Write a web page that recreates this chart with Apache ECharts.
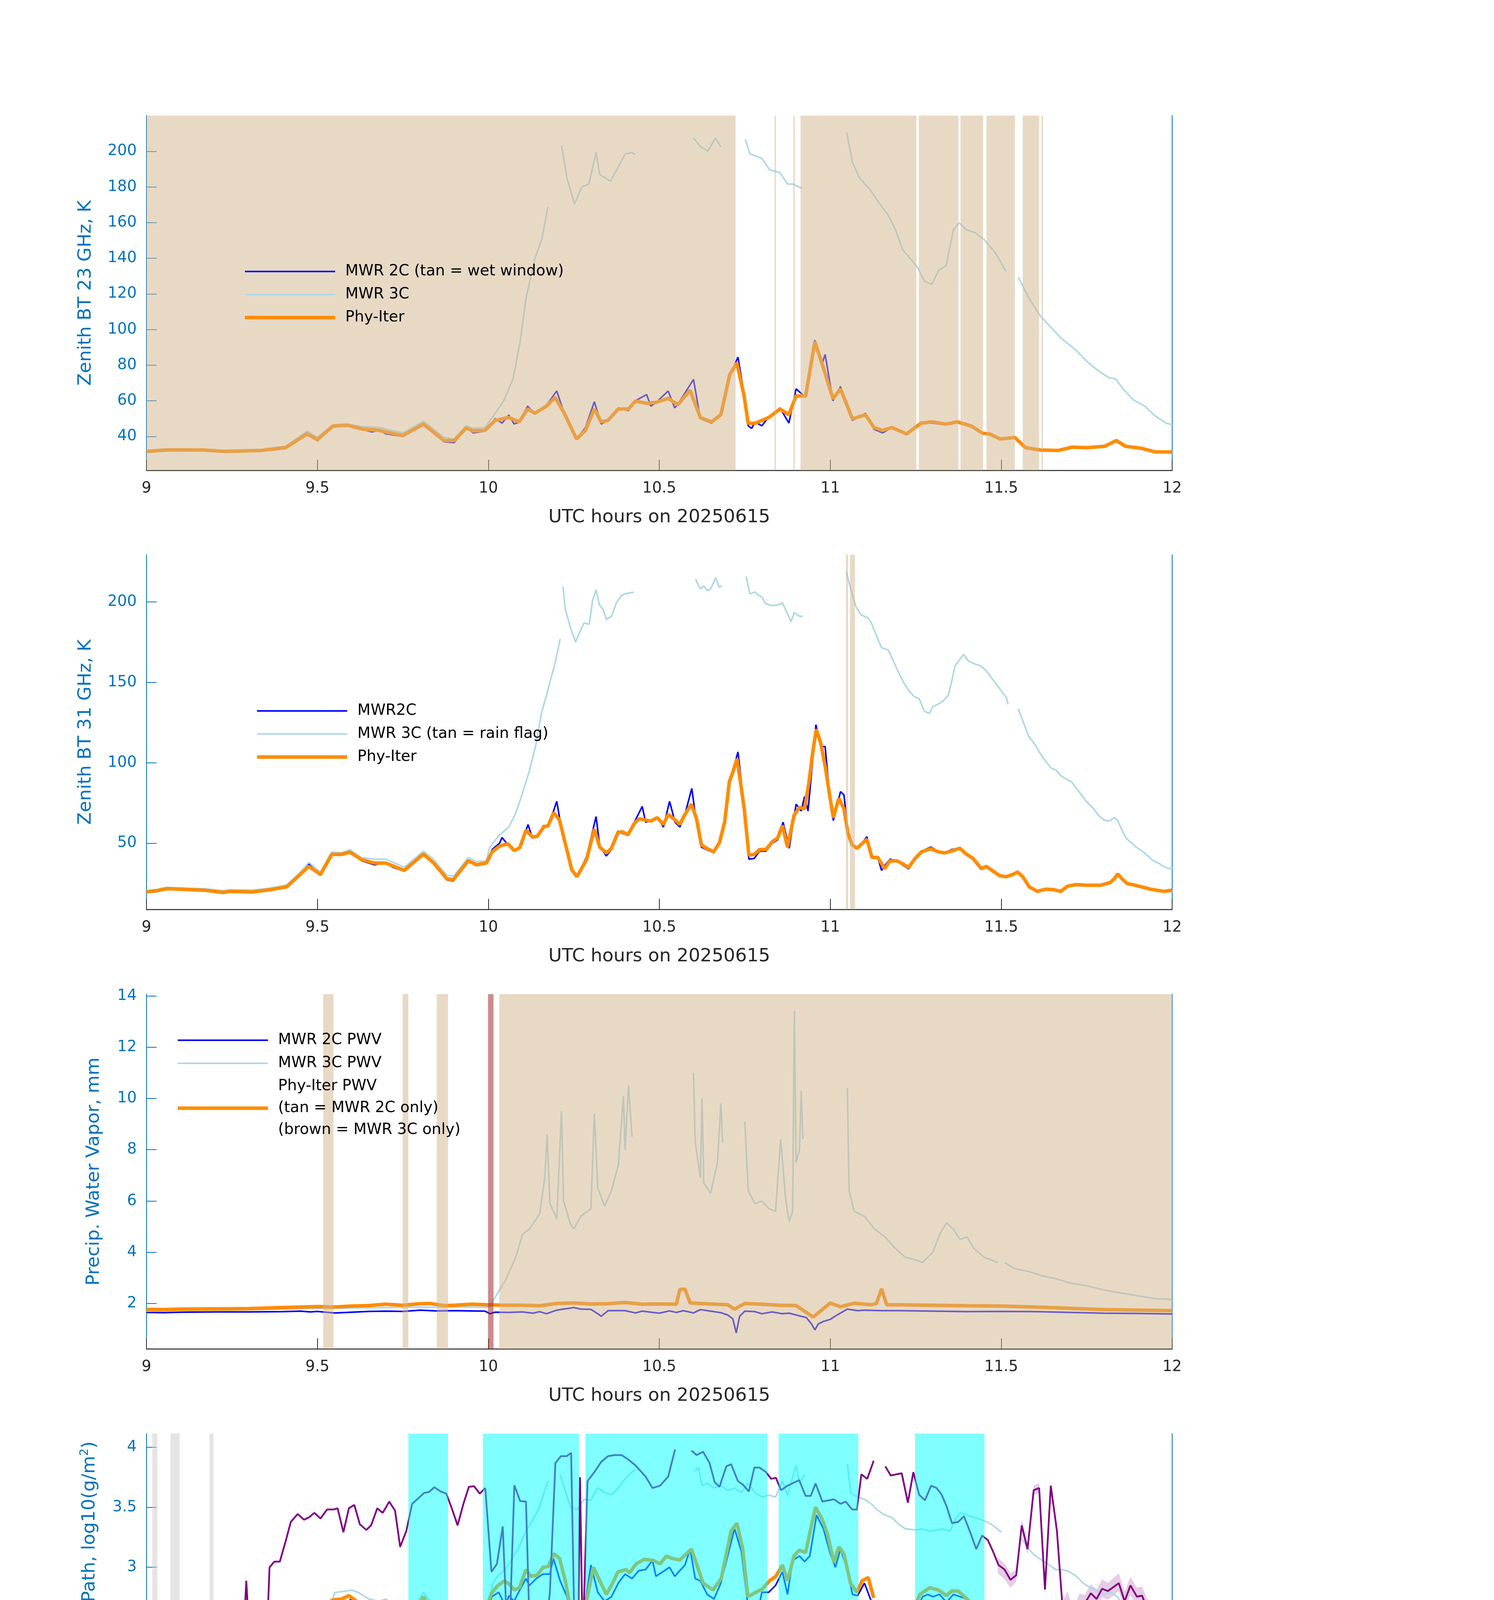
<!DOCTYPE html>
<html>
<head>
<meta charset="utf-8">
<title>MWR Phy-Iter retrieval, 20250615</title>
<script src="https://cdn.jsdelivr.net/npm/echarts@6/dist/echarts.min.js"></script>
<style>
  html, body { margin: 0; padding: 0; background: #fff; }
  #chart { width: 3825px; height: 6000px; }
</style>
</head>
<body>
<div id="chart"></div>
<script>
// values: [UTC hour, value], null = gap in the record

// panel 1: zenith BT 23 GHz
var bt23_2c = [[9.0,31.5],[9.06,32.2],[9.165,32.2],[9.228,31.4],[9.333,32],[9.407,33.5],[9.47,42],[9.5,37.5],[9.545,46],[9.587,46.5],[9.63,44],[9.66,42.5],[9.68,43.5],[9.7,41.5],[9.75,40],[9.81,47.5],[9.87,37],[9.9,36.5],[9.935,45],[9.956,42],[9.99,43],[10.02,50],[10.04,47.5],[10.06,52],[10.075,47],[10.09,48],[10.115,57],[10.136,52.5],[10.17,57.5],[10.2,65.5],[10.22,54],[10.258,38.5],[10.284,45],[10.31,59.5],[10.33,47],[10.35,49],[10.38,56],[10.41,54.5],[10.43,60],[10.463,63.5],[10.475,57],[10.49,59],[10.526,65.5],[10.545,56],[10.554,58],[10.6,72],[10.62,50],[10.653,47.5],[10.68,52],[10.706,74],[10.73,84.5],[10.748,64],[10.76,46],[10.77,44.5],[10.78,48],[10.8,46],[10.82,51],[10.853,56],[10.879,47.5],[10.9,66.7],[10.928,62],[10.955,94],[10.975,80],[10.985,86],[11.008,60],[11.03,68],[11.065,49],[11.103,53],[11.128,44],[11.153,42],[11.18,45],[11.223,41],[11.265,48],[11.297,47.5],[11.339,46.5],[11.371,48],[11.413,45.5],[11.445,41.5],[11.466,41],[11.497,38.5],[11.54,39.8],[11.571,33.5],[11.614,32.2],[11.666,32],[11.708,34],[11.751,33.6],[11.803,34.3],[11.837,37.5],[11.863,34.3],[11.909,33.2],[11.951,31.2],[12.0,31]];
var bt23_3c = [[9.0,32.2],[9.06,33],[9.165,32.8],[9.228,32.2],[9.333,32.6],[9.407,34.5],[9.47,43],[9.5,39.5],[9.545,46.5],[9.587,47],[9.63,45.5],[9.68,45],[9.75,42],[9.81,48.5],[9.87,39.5],[9.9,38.5],[9.935,46],[9.956,44.5],[9.99,45],[10.02,53],[10.045,60],[10.072,72.3],[10.093,93.2],[10.11,117.3],[10.136,139.8],[10.157,151],[10.174,168.8],[10.19,null],[10.214,203.3],[10.23,184.9],[10.252,170.4],[10.273,180],[10.294,181.6],[10.315,199.3],[10.326,187],[10.357,183.2],[10.38,191.3],[10.4,198.5],[10.42,199.3],[10.43,198],[10.5,null],[10.6,207.4],[10.621,202.5],[10.642,200.1],[10.664,207.4],[10.68,202.5],[10.7,null],[10.752,206.6],[10.765,198.5],[10.8,196.1],[10.822,189.7],[10.853,188],[10.875,181.6],[10.89,181.6],[10.917,179.2],[10.98,null],[11.048,210.6],[11.065,193.7],[11.086,184.9],[11.117,178.4],[11.139,172],[11.17,164],[11.191,155.9],[11.212,144.7],[11.234,139.8],[11.255,135],[11.276,127],[11.297,125.4],[11.318,133.4],[11.339,135.8],[11.36,155.9],[11.377,159.9],[11.398,155.9],[11.424,154.3],[11.451,150.3],[11.483,143],[11.514,132.6],[11.53,null],[11.55,129.4],[11.582,117.3],[11.614,107.7],[11.645,101.3],[11.677,94.8],[11.719,88.4],[11.751,82],[11.782,77.1],[11.814,73.1],[11.835,72.3],[11.856,66.7],[11.888,60.3],[11.92,57],[11.951,51.4],[11.983,47.4],[12.0,46.6]];
var bt23_phy = [[9.0,31.6],[9.06,32.4],[9.165,32.4],[9.228,31.6],[9.333,32.1],[9.407,33.7],[9.47,41.4],[9.5,38.2],[9.545,45.8],[9.587,46.3],[9.63,44.2],[9.68,43.4],[9.75,40.5],[9.81,46.9],[9.87,37.7],[9.9,37.7],[9.935,44.7],[9.956,43.1],[9.99,43.4],[10.02,49],[10.06,50.6],[10.09,48.2],[10.115,55.4],[10.136,53],[10.17,57],[10.195,61.9],[10.22,53.8],[10.258,38.6],[10.284,43.4],[10.31,55.4],[10.33,48.2],[10.35,49],[10.38,55.4],[10.41,55.4],[10.43,59.8],[10.463,58.6],[10.49,59.1],[10.526,61.4],[10.554,57.8],[10.59,65.9],[10.62,50.6],[10.653,48.2],[10.68,52.2],[10.706,74.7],[10.727,81.2],[10.748,62.7],[10.76,47.4],[10.78,47.4],[10.82,50.6],[10.853,55.4],[10.879,52.2],[10.9,62.7],[10.928,62.7],[10.955,93.2],[10.985,75.5],[11.008,61.1],[11.03,66.7],[11.065,49.8],[11.103,52.2],[11.128,45],[11.153,43.4],[11.18,45],[11.223,41.4],[11.265,47.4],[11.297,48.2],[11.339,46.9],[11.371,48.2],[11.413,45.8],[11.445,41.8],[11.466,41.4],[11.497,38.6],[11.54,39.4],[11.571,33.7],[11.614,32.4],[11.666,32.1],[11.708,34],[11.751,33.7],[11.803,34.5],[11.837,37.7],[11.863,34.5],[11.909,33.4],[11.951,31.3],[12.0,31.3]];
var wetWindow = [[9.0,10.723],[10.837,10.841],[10.892,10.896],[10.913,11.252],[11.259,11.375],[11.381,11.447],[11.457,11.54],[11.563,11.611],[11.618,11.622]];

// panel 2: zenith BT 31 GHz
var bt31_2c = [[9.0,19.5],[9.03,20.2],[9.06,21.5],[9.12,21],[9.17,20.5],[9.225,19],[9.244,19.8],[9.31,19.4],[9.36,20.8],[9.41,22.5],[9.446,30],[9.475,37],[9.509,30],[9.542,44],[9.571,43],[9.595,44.5],[9.629,39],[9.667,36.5],[9.7,38],[9.72,35],[9.754,32.5],[9.81,43],[9.84,37],[9.879,27],[9.898,26.5],[9.941,39.5],[9.965,36],[9.994,37],[10.011,46],[10.033,50],[10.04,53.5],[10.057,49],[10.076,45],[10.092,47],[10.116,61.5],[10.129,53],[10.143,54.5],[10.162,61],[10.175,60],[10.2,76],[10.208,66],[10.244,33],[10.259,29],[10.287,41.5],[10.315,66.5],[10.326,48],[10.345,42],[10.36,46],[10.379,57.5],[10.393,56],[10.408,55],[10.427,63],[10.45,72.8],[10.46,63],[10.475,64],[10.494,66],[10.512,60],[10.53,76],[10.546,63],[10.56,60],[10.575,68],[10.595,84],[10.609,62],[10.623,47.5],[10.638,46],[10.659,44],[10.676,50],[10.691,62],[10.705,87],[10.73,106.7],[10.739,90],[10.749,70],[10.762,40],[10.778,40.5],[10.793,45],[10.812,45],[10.831,50],[10.846,52],[10.862,63],[10.88,46.8],[10.9,74.2],[10.915,70],[10.925,79],[10.935,70],[10.948,100],[10.958,123.6],[10.972,110],[10.985,110],[10.998,80],[11.009,64],[11.03,82],[11.04,80],[11.052,57],[11.064,49],[11.078,47],[11.093,50],[11.107,54],[11.122,41],[11.139,41],[11.15,33],[11.159,36],[11.175,40],[11.195,39],[11.214,36],[11.229,34],[11.248,40.5],[11.267,45],[11.294,47.5],[11.316,45],[11.335,44],[11.355,46],[11.379,47],[11.398,43],[11.418,40],[11.442,34],[11.456,36],[11.471,33],[11.495,29.5],[11.514,29],[11.534,31],[11.548,32.5],[11.563,28.5],[11.582,22.5],[11.606,19.5],[11.631,21],[11.655,20.5],[11.674,19.7],[11.694,23],[11.718,24],[11.752,23.8],[11.79,24],[11.82,25.5],[11.83,28],[11.841,31],[11.854,27.5],[11.868,24.5],[11.897,23.3],[11.936,21],[11.975,19.7],[12.0,21]];
var bt31_3c = [[9.0,20.5],[9.03,21.2],[9.06,22.5],[9.12,22],[9.17,21.6],[9.225,20.5],[9.244,21],[9.31,20.8],[9.36,22],[9.41,24],[9.446,31],[9.475,38],[9.509,32],[9.542,44.5],[9.571,44],[9.595,46],[9.629,41],[9.667,40],[9.7,40],[9.754,35],[9.81,45],[9.84,40],[9.879,30],[9.898,29.5],[9.941,41],[9.965,38.5],[9.994,39],[10.003,47],[10.03,54.5],[10.06,60],[10.08,68.6],[10.1,81],[10.12,95],[10.14,112],[10.155,130.6],[10.17,142],[10.18,150],[10.195,161.6],[10.21,177],[10.214,null],[10.218,209.6],[10.225,195.5],[10.24,184],[10.255,175],[10.265,180],[10.28,187],[10.295,186],[10.305,201],[10.315,207.5],[10.325,198],[10.335,195.5],[10.345,189],[10.36,191],[10.375,199.7],[10.39,204],[10.4,205],[10.425,206],[10.5,null],[10.606,214],[10.62,208],[10.63,210],[10.64,207],[10.65,208],[10.665,215],[10.675,209],[10.684,210],[10.72,null],[10.754,215.6],[10.765,205],[10.78,206],[10.79,204],[10.8,203],[10.81,199],[10.83,197.6],[10.85,198.3],[10.86,199.4],[10.875,192.6],[10.885,187.7],[10.895,193.4],[10.91,191],[10.92,191],[10.98,null],[11.047,218.7],[11.06,208],[11.075,197],[11.09,192],[11.11,190],[11.12,187],[11.135,179],[11.15,171.5],[11.17,170],[11.185,163],[11.2,156],[11.215,149.7],[11.23,144.7],[11.245,141.2],[11.26,139.8],[11.275,132],[11.29,130.6],[11.3,134.9],[11.315,136.3],[11.33,138.4],[11.345,141.9],[11.355,150.4],[11.365,160.2],[11.38,164.5],[11.39,167.3],[11.405,163],[11.42,161.6],[11.44,160.2],[11.455,157.4],[11.47,153.2],[11.485,149],[11.5,144.7],[11.515,140.5],[11.52,136.3],[11.535,null],[11.55,133.5],[11.565,125],[11.58,116.5],[11.6,110.9],[11.615,105.3],[11.63,101],[11.645,96.8],[11.66,95.4],[11.675,91.9],[11.69,89.8],[11.705,88.3],[11.72,84.1],[11.735,79.9],[11.75,75.7],[11.77,71.4],[11.785,67.2],[11.8,64.4],[11.815,63.7],[11.83,65.8],[11.84,64.4],[11.855,57.3],[11.865,53.1],[11.88,50.3],[11.895,47.5],[11.915,44.6],[11.93,41.8],[11.945,39],[11.96,37.6],[11.975,35.5],[11.99,34.1],[12.0,34.8]];
var bt31_phy = [[9.0,19.7],[9.03,20.4],[9.06,21.7],[9.12,21.1],[9.17,20.7],[9.225,19.3],[9.244,20],[9.31,19.6],[9.36,21],[9.41,22.8],[9.446,29.8],[9.475,35.5],[9.509,30.5],[9.542,43],[9.571,43],[9.595,44.4],[9.629,39.7],[9.667,37.6],[9.7,37.6],[9.754,33],[9.81,43.2],[9.84,37.6],[9.879,27.7],[9.898,27.4],[9.941,39],[9.965,36.6],[9.994,37.6],[10.011,44.6],[10.033,48.2],[10.057,49.6],[10.076,45.3],[10.092,47.2],[10.11,58],[10.129,53.8],[10.143,54.2],[10.162,60.1],[10.175,60.9],[10.191,68.9],[10.208,64.4],[10.244,33.4],[10.259,29.1],[10.287,39.7],[10.31,58.7],[10.326,47.5],[10.345,43.9],[10.36,46.8],[10.379,56.6],[10.393,57],[10.408,55.1],[10.427,62.3],[10.441,65.1],[10.475,63.7],[10.494,65.8],[10.512,61.6],[10.526,67.9],[10.546,64.4],[10.56,61.6],[10.575,67.9],[10.594,74.2],[10.609,65.1],[10.623,48.9],[10.638,46.8],[10.659,44.6],[10.676,50.3],[10.691,63],[10.705,88.3],[10.715,94],[10.727,102.4],[10.739,85.5],[10.749,70],[10.762,42.5],[10.778,43],[10.793,46],[10.812,46],[10.831,51],[10.846,53.1],[10.86,60.9],[10.875,47.5],[10.894,67.2],[10.909,72.1],[10.925,71.4],[10.938,88.3],[10.948,105.3],[10.959,120.8],[10.972,112.3],[10.986,96.8],[10.998,79.9],[11.009,65.8],[11.025,77.8],[11.04,71.4],[11.052,55.9],[11.064,48.9],[11.078,46.8],[11.093,49.6],[11.107,52.4],[11.122,41.1],[11.139,41.1],[11.159,34.1],[11.175,39],[11.195,39],[11.214,36.9],[11.229,34.8],[11.248,40.4],[11.267,44.6],[11.294,46.5],[11.316,44.6],[11.335,43.9],[11.355,45.1],[11.379,46.8],[11.398,43.2],[11.418,40.4],[11.442,34.1],[11.456,35.5],[11.471,33.4],[11.495,29.8],[11.514,29.1],[11.534,30.5],[11.548,32],[11.563,29.1],[11.582,22.8],[11.606,20],[11.631,21.4],[11.655,21],[11.674,20],[11.694,23.2],[11.718,24.2],[11.752,23.8],[11.79,23.8],[11.82,25.6],[11.83,27.7],[11.841,30.8],[11.854,27.7],[11.868,24.9],[11.897,23.5],[11.936,21.4],[11.975,20],[12.0,20.7]];
var rainFlag = [[11.046,11.052],[11.058,11.072]];

// panel 3: precipitable water vapour, mm
var pwv_2c = [[9.0,1.65],[9.05,1.64],[9.1,1.66],[9.2,1.67],[9.3,1.67],[9.4,1.68],[9.45,1.7],[9.48,1.67],[9.5,1.69],[9.55,1.63],[9.6,1.66],[9.65,1.69],[9.7,1.7],[9.75,1.69],[9.8,1.74],[9.85,1.71],[9.9,1.72],[9.95,1.71],[9.99,1.7],[10.005,1.6],[10.02,1.66],[10.06,1.65],[10.1,1.67],[10.13,1.62],[10.15,1.68],[10.17,1.6],[10.2,1.74],[10.22,1.78],[10.25,1.84],[10.27,1.78],[10.3,1.77],[10.32,1.6],[10.33,1.5],[10.35,1.72],[10.4,1.72],[10.43,1.63],[10.45,1.7],[10.5,1.62],[10.53,1.71],[10.55,1.65],[10.57,1.72],[10.6,1.63],[10.62,1.76],[10.65,1.7],[10.68,1.64],[10.7,1.55],[10.715,1.4],[10.725,0.85],[10.735,1.5],[10.75,1.7],[10.78,1.68],[10.8,1.6],[10.83,1.67],[10.86,1.6],[10.88,1.62],[10.9,1.55],[10.93,1.45],[10.945,1.2],[10.955,0.97],[10.965,1.2],[10.98,1.3],[11.0,1.38],[11.02,1.55],[11.05,1.78],[11.08,1.72],[11.1,1.74],[11.15,1.72],[11.2,1.72],[11.3,1.7],[11.4,1.68],[11.5,1.69],[11.6,1.68],[11.7,1.65],[11.8,1.62],[11.9,1.61],[12.0,1.59]];
var pwv_3c = [[9.0,1.7],[9.1,1.72],[9.2,1.73],[9.3,1.75],[9.4,1.78],[9.5,1.8],[9.6,1.82],[9.7,1.84],[9.8,1.86],[9.9,1.85],[9.95,1.86],[10.0,1.85],[10.02,2.25],[10.05,2.9],[10.08,3.8],[10.1,4.7],[10.12,4.9],[10.15,5.5],[10.165,6.9],[10.172,8.6],[10.18,5.9],[10.2,5.3],[10.214,9.5],[10.22,6.0],[10.24,5.1],[10.25,4.9],[10.27,5.4],[10.3,5.7],[10.31,9.4],[10.32,6.5],[10.34,5.8],[10.36,6.4],[10.38,7.4],[10.395,10.1],[10.4,8.0],[10.41,10.5],[10.42,8.5],[10.43,null],[10.6,11.0],[10.605,8.3],[10.62,6.9],[10.625,10.0],[10.63,6.7],[10.64,6.5],[10.65,6.3],[10.66,6.9],[10.67,7.5],[10.68,9.8],[10.685,8.3],[10.69,null],[10.75,9.1],[10.76,6.4],[10.78,5.9],[10.8,6.0],[10.82,5.7],[10.84,5.6],[10.855,8.4],[10.87,6.0],[10.88,5.2],[10.89,5.6],[10.895,13.4],[10.9,7.5],[10.91,8.0],[10.915,10.3],[10.92,8.4],[10.925,null],[11.05,10.4],[11.055,6.4],[11.07,5.6],[11.1,5.4],[11.13,4.9],[11.16,4.6],[11.19,4.15],[11.22,3.8],[11.25,3.7],[11.27,3.6],[11.3,4.0],[11.32,4.7],[11.34,5.15],[11.36,4.9],[11.38,4.5],[11.4,4.6],[11.42,4.15],[11.45,3.8],[11.49,3.6],[11.5,null],[11.51,3.59],[11.54,3.36],[11.58,3.25],[11.62,3.08],[11.66,2.97],[11.7,2.8],[11.75,2.69],[11.8,2.53],[11.85,2.41],[11.9,2.3],[11.95,2.19],[12.0,2.16]];
var pwv_phy = [[9.0,1.77],[9.05,1.76],[9.1,1.78],[9.2,1.79],[9.3,1.8],[9.4,1.84],[9.45,1.86],[9.5,1.88],[9.55,1.86],[9.6,1.9],[9.65,1.92],[9.7,1.97],[9.75,1.93],[9.8,1.99],[9.83,2.0],[9.87,1.92],[9.9,1.93],[9.95,1.97],[10.0,1.95],[10.05,1.93],[10.1,1.93],[10.15,1.91],[10.2,2.0],[10.25,2.02],[10.3,1.98],[10.35,1.99],[10.4,2.04],[10.45,1.97],[10.5,1.98],[10.55,1.97],[10.56,2.55],[10.575,2.56],[10.59,2.02],[10.65,1.98],[10.7,1.95],[10.72,1.78],[10.75,2.0],[10.8,1.97],[10.85,1.93],[10.9,1.92],[10.95,1.47],[11.0,2.02],[11.03,1.87],[11.07,2.01],[11.12,1.95],[11.135,2.0],[11.15,2.57],[11.165,1.95],[11.2,1.95],[11.3,1.93],[11.4,1.91],[11.5,1.9],[11.6,1.86],[11.7,1.81],[11.8,1.76],[11.9,1.74],[12.0,1.72]];
var only2c = [[9.517,9.547],[9.749,9.766],[9.849,9.882],[10.032,12.0]];
var only3c = [[9.999,10.015]];

// panel 4: log10 liquid water path
var lwp_2c = [[9.0,1.85],[9.008,1.7],[9.02,1.9],[9.03,1.75],[9.04,1.85],[9.055,1.92],[9.07,1.85],[9.09,1.87],[9.11,1.88],[9.125,1.87],[9.135,1.934],[9.145,1.87],[9.16,1.792],[9.18,1.774],[9.2,1.726],[9.22,1.66],[9.232,1.613],[9.245,1.745],[9.26,1.736],[9.28,1.708],[9.3,1.679],[9.32,1.717],[9.34,1.745],[9.355,1.774],[9.37,1.849],[9.39,1.962],[9.41,2.0],[9.43,2.132],[9.44,2.302],[9.47,2.34],[9.485,2.613],[9.5,2.491],[9.52,2.387],[9.54,2.566],[9.56,2.717],[9.58,2.698],[9.6,2.736],[9.62,2.679],[9.64,2.642],[9.66,2.604],[9.68,2.613],[9.7,2.585],[9.72,2.547],[9.74,2.528],[9.76,2.472],[9.78,2.491],[9.8,2.585],[9.815,2.708],[9.83,2.623],[9.85,2.509],[9.87,2.358],[9.89,2.264],[9.905,2.245],[9.92,2.453],[9.94,2.623],[9.96,2.566],[9.98,2.594],[9.99,2.557],[10.01,2.755],[10.03,2.792],[10.05,2.679],[10.06,2.764],[10.075,2.717],[10.09,2.8],[10.11,2.906],[10.12,2.849],[10.14,2.906],[10.16,2.943],[10.18,2.943],[10.19,3.075],[10.21,2.887],[10.23,2.755],[10.26,2.321],[10.28,2.642],[10.3,3.019],[10.32,2.792],[10.34,2.717],[10.36,2.755],[10.38,2.868],[10.4,2.943],[10.42,2.906],[10.44,2.972],[10.46,2.981],[10.48,3.057],[10.49,2.925],[10.51,2.962],[10.53,3.0],[10.545,2.925],[10.56,2.972],[10.575,3.019],[10.59,3.151],[10.605,2.906],[10.62,2.887],[10.64,2.774],[10.66,2.736],[10.68,2.868],[10.7,3.094],[10.72,3.321],[10.74,3.132],[10.76,2.66],[10.775,2.717],[10.79,2.66],[10.8,2.792],[10.82,2.792],[10.84,2.849],[10.86,2.962],[10.875,2.774],[10.89,3.057],[10.91,3.094],[10.925,3.047],[10.94,3.094],[10.96,3.434],[10.98,3.321],[11.0,3.113],[11.015,3.0],[11.03,3.151],[11.05,2.981],[11.065,2.774],[11.08,2.764],[11.1,2.868],[11.12,2.717],[11.135,2.642],[11.15,2.491],[11.158,2.453],[11.17,2.566],[11.185,2.66],[11.2,2.604],[11.215,2.642],[11.235,2.509],[11.25,2.642],[11.27,2.755],[11.285,2.774],[11.3,2.755],[11.32,2.774],[11.34,2.708],[11.36,2.774],[11.38,2.755],[11.4,2.736],[11.42,2.66],[11.44,2.491],[11.455,2.547],[11.47,2.509],[11.49,2.415],[11.505,2.377],[11.52,2.396],[11.535,2.358],[11.545,2.5],[11.56,2.509],[11.58,2.132],[11.6,1.755],[11.61,1.642],[11.62,1.792],[11.635,1.925],[11.645,1.849],[11.655,1.792],[11.665,1.906],[11.675,1.66],[11.69,2.057],[11.71,2.142],[11.73,2.17],[11.75,2.113],[11.77,2.132],[11.79,2.151],[11.81,2.085],[11.83,2.245],[11.845,2.453],[11.86,2.245],[11.875,2.189],[11.89,2.113],[11.91,2.113],[11.93,1.925],[11.945,1.887],[11.96,1.755],[11.975,1.717],[11.99,1.604],[11.997,1.887],[12.0,1.774]];
var lwp_3c = [[9.0,1.9],[9.02,1.85],[9.04,1.95],[9.06,1.93],[9.08,1.9],[9.1,1.95],[9.13,1.93],[9.15,1.87],[9.18,1.85],[9.2,1.83],[9.23,1.81],[9.26,1.79],[9.3,1.76],[9.34,1.79],[9.37,1.89],[9.4,2.0],[9.43,2.25],[9.46,2.45],[9.48,2.66],[9.5,2.55],[9.52,2.47],[9.55,2.79],[9.58,2.8],[9.6,2.81],[9.62,2.79],[9.65,2.736],[9.68,2.717],[9.7,2.736],[9.73,2.66],[9.75,2.547],[9.78,2.66],[9.81,2.79],[9.84,2.68],[9.87,2.415],[9.9,2.34],[9.92,2.49],[9.94,2.68],[9.97,2.642],[10.0,2.66],[10.013,2.868],[10.032,2.943],[10.05,2.98],[10.07,3.075],[10.09,3.17],[10.11,3.302],[10.13,3.396],[10.148,3.49],[10.163,3.623],[10.175,3.717],[10.18,null],[10.21,3.77],[10.24,3.5],[10.26,3.48],[10.28,3.566],[10.3,3.56],[10.32,3.66],[10.34,3.623],[10.36,3.604],[10.38,3.66],[10.4,3.736],[10.42,3.792],[10.43,3.811],[10.44,null],[10.604,3.8],[10.615,3.83],[10.625,3.68],[10.64,3.7],[10.66,3.66],[10.68,3.68],[10.7,3.64],[10.72,3.66],[10.74,3.623],[10.76,3.7],[10.78,3.62],[10.8,3.585],[10.82,3.6],[10.84,3.585],[10.86,3.717],[10.875,3.6],[10.9,3.849],[10.91,3.7],[10.925,3.77],[10.93,null],[11.05,3.86],[11.06,3.62],[11.08,3.585],[11.1,3.566],[11.12,3.528],[11.14,3.472],[11.16,3.434],[11.18,3.415],[11.2,3.358],[11.22,3.32],[11.25,3.311],[11.27,3.32],[11.29,3.3],[11.31,3.31],[11.33,3.32],[11.35,3.3],[11.365,3.396],[11.38,3.453],[11.4,3.434],[11.42,3.415],[11.44,3.396],[11.46,3.377],[11.48,3.34],[11.5,3.292],[11.51,null],[11.558,3.245],[11.58,3.151],[11.6,3.094],[11.62,3.057],[11.64,3.019],[11.66,2.981],[11.68,2.98],[11.7,2.962],[11.72,2.925],[11.74,2.868],[11.76,2.83],[11.78,2.811],[11.8,2.774],[11.82,2.792],[11.84,2.755],[11.86,2.66],[11.88,2.623],[11.9,2.528],[11.92,2.453],[11.94,2.377],[11.96,2.283],[11.975,2.245],[11.99,2.3],[12.0,2.28]];
var lwp_phy = [[9.0,1.604],[9.009,1.528],[9.033,1.679],[9.057,1.849],[9.071,1.802],[9.09,1.792],[9.105,1.755],[9.119,1.774],[9.138,1.736],[9.163,1.642],[9.187,1.472],[9.206,1.406],[9.225,1.292],[9.242,1.472],[9.259,1.453],[9.278,1.396],[9.292,1.396],[9.307,1.434],[9.326,1.481],[9.345,1.604],[9.36,1.717],[9.379,1.849],[9.408,1.981],[9.427,2.151],[9.446,2.358],[9.461,2.509],[9.475,2.585],[9.49,2.491],[9.504,2.406],[9.523,2.566],[9.542,2.726],[9.571,2.736],[9.592,2.764],[9.61,2.726],[9.633,2.679],[9.657,2.642],[9.677,2.632],[9.691,2.651],[9.71,2.623],[9.73,2.594],[9.746,2.519],[9.763,2.519],[9.788,2.632],[9.81,2.755],[9.831,2.66],[9.855,2.509],[9.877,2.311],[9.89,2.274],[9.908,2.377],[9.922,2.528],[9.941,2.679],[9.956,2.623],[9.98,2.632],[9.994,2.66],[10.009,2.783],[10.028,2.849],[10.047,2.887],[10.062,2.858],[10.076,2.811],[10.091,2.83],[10.11,2.981],[10.124,2.925],[10.143,2.934],[10.16,3.0],[10.175,3.006],[10.191,3.113],[10.208,3.075],[10.225,2.887],[10.244,2.604],[10.259,2.358],[10.273,2.613],[10.287,2.717],[10.307,3.0],[10.326,2.887],[10.345,2.774],[10.36,2.849],[10.379,2.962],[10.403,2.981],[10.413,2.953],[10.432,3.028],[10.456,3.066],[10.483,3.057],[10.502,3.028],[10.521,3.094],[10.536,3.075],[10.56,3.06],[10.594,3.151],[10.628,2.868],[10.657,2.811],[10.681,2.906],[10.71,3.302],[10.727,3.368],[10.744,3.151],[10.759,2.755],[10.783,2.792],[10.802,2.821],[10.822,2.887],[10.841,2.925],[10.86,3.019],[10.875,2.887],[10.894,3.094],[10.909,3.142],[10.928,3.123],[10.943,3.321],[10.957,3.5],[10.977,3.396],[10.991,3.283],[11.011,3.038],[11.025,3.17],[11.04,3.113],[11.059,2.868],[11.078,2.792],[11.093,2.887],[11.111,2.915],[11.127,2.745],[11.14,null],[11.159,2.557],[11.175,2.698],[11.204,2.679],[11.227,2.547],[11.243,2.642],[11.262,2.774],[11.291,2.83],[11.316,2.811],[11.34,2.764],[11.355,2.802],[11.374,2.802],[11.393,2.755],[11.42,2.679],[11.442,2.538],[11.456,2.575],[11.476,2.491],[11.495,2.387],[11.514,2.406],[11.543,2.462],[11.558,2.434],[11.577,2.038],[11.597,1.604],[11.611,1.377],[11.626,1.698],[11.645,1.745],[11.676,1.604],[11.694,2.019],[11.708,2.094],[11.728,2.151],[11.761,2.085],[11.791,2.094],[11.82,2.189],[11.844,2.443],[11.858,2.179],[11.873,2.179],[11.892,2.094],[11.912,2.057],[11.931,1.887],[11.955,1.679],[11.975,1.415],[11.989,1.509],[11.997,1.67],[12.0,1.43]];
var lwp_adi = [[9.0,1.887],[9.013,1.66],[9.026,1.528],[9.042,1.943],[9.059,2.132],[9.066,1.925],[9.076,1.528],[9.09,1.698],[9.108,2.491],[9.124,2.358],[9.143,1.906],[9.158,1.906],[9.175,2.585],[9.191,1.54],[9.208,2.132],[9.225,1.887],[9.242,2.33],[9.259,1.962],[9.275,1.962],[9.292,2.887],[9.31,1.953],[9.326,2.472],[9.342,1.698],[9.36,3.0],[9.374,3.047],[9.39,3.047],[9.408,3.226],[9.422,3.377],[9.442,3.443],[9.461,3.396],[9.475,3.415],[9.491,3.453],[9.509,3.406],[9.528,3.481],[9.547,3.481],[9.559,3.491],[9.576,3.292],[9.592,3.491],[9.608,3.519],[9.624,3.358],[9.643,3.311],[9.657,3.349],[9.675,3.491],[9.691,3.453],[9.71,3.547],[9.727,3.472],[9.742,3.17],[9.76,3.302],[9.777,3.528],[9.792,3.566],[9.812,3.619],[9.826,3.626],[9.842,3.666],[9.86,3.632],[9.877,3.613],[9.893,3.491],[9.91,3.349],[9.927,3.528],[9.943,3.67],[9.958,3.675],[9.975,3.613],[9.991,3.66],[10.009,2.962],[10.025,3.028],[10.042,3.34],[10.059,2.198],[10.076,3.683],[10.093,3.551],[10.11,3.547],[10.128,1.755],[10.143,1.943],[10.158,2.226],[10.18,2.792],[10.196,3.868],[10.212,3.925],[10.229,3.925],[10.242,3.953],[10.259,1.415],[10.268,3.75],[10.276,2.35],[10.29,3.717],[10.31,3.792],[10.33,3.877],[10.35,3.925],[10.37,3.934],[10.39,3.934],[10.41,3.896],[10.43,3.849],[10.46,3.755],[10.48,3.66],[10.502,3.679],[10.526,3.755],[10.546,3.981],[10.57,null],[10.594,3.972],[10.609,3.934],[10.628,3.962],[10.647,3.868],[10.662,3.708],[10.676,3.67],[10.696,3.84],[10.71,3.858],[10.73,3.717],[10.744,3.689],[10.762,3.632],[10.778,3.83],[10.793,3.83],[10.812,3.792],[10.827,3.736],[10.841,3.745],[10.856,3.642],[10.875,3.679],[10.909,3.726],[10.928,3.594],[10.943,3.594],[10.957,3.698],[10.977,3.547],[11.011,3.566],[11.03,3.528],[11.045,3.547],[11.064,3.481],[11.078,3.481],[11.091,3.774],[11.108,3.736],[11.127,3.887],[11.145,null],[11.161,3.84],[11.177,3.764],[11.209,3.783],[11.227,3.538],[11.243,3.792],[11.26,3.604],[11.277,3.557],[11.295,3.679],[11.311,3.66],[11.326,3.604],[11.34,3.509],[11.356,3.368],[11.374,3.377],[11.391,3.425],[11.408,3.302],[11.427,3.151],[11.444,3.264],[11.461,3.226],[11.476,3.132],[11.492,3.019],[11.51,2.981],[11.527,2.896],[11.544,2.934],[11.56,3.349],[11.577,3.151],[11.595,3.642],[11.611,3.66],[11.628,2.815],[11.645,3.679],[11.663,3.302],[11.68,2.642],[11.694,2.726],[11.711,2.538],[11.728,2.708],[11.744,2.698],[11.762,2.783],[11.779,2.736],[11.795,2.821],[11.812,2.802],[11.844,2.868],[11.861,2.717],[11.878,2.849],[11.897,2.755],[11.912,2.764],[11.926,2.66],[11.944,2.632],[11.96,2.075],[11.975,2.132],[11.989,2.17],[12.0,2.292]];
// uncertainty envelopes [hour, low, high]
var phyEnvLeft = [[9.0,1.38,1.72],[9.02,1.3,1.8],[9.04,1.6,1.85],[9.06,1.82,1.88],[9.1,1.74,1.8],[9.13,1.7,1.8],[9.16,1.55,1.75],[9.19,1.3,1.68],[9.21,1.16,1.64],[9.24,1.16,1.62],[9.27,1.16,1.6],[9.3,1.16,1.58],[9.33,1.2,1.6],[9.35,1.32,1.72],[9.37,1.6,1.85],[9.4,1.88,1.96],[9.42,2.05,2.1]];
var phyEnvRight = [[11.56,2.4,2.47],[11.58,2.0,2.1],[11.595,1.16,2.0],[11.61,1.16,1.8],[11.625,1.4,1.78],[11.645,1.45,1.8],[11.676,1.45,1.75],[11.694,1.95,2.05],[11.71,2.05,2.15],[11.73,2.1,2.2],[11.76,2.0,2.12],[11.79,2.05,2.14],[11.82,2.12,2.24],[11.844,2.38,2.47],[11.86,2.13,2.22],[11.89,2.05,2.15],[11.91,2.0,2.1],[11.93,1.78,1.95],[11.955,1.45,1.8],[11.975,1.16,1.6],[11.99,1.2,1.7],[12.0,1.16,1.75]];
var adiEnvLeft = [[9.0,1.16,2.05],[9.03,1.3,2.1],[9.06,1.85,2.3],[9.08,1.16,2.2],[9.1,1.6,2.6],[9.125,2.2,2.45],[9.145,1.55,2.2],[9.16,1.55,2.2],[9.175,2.4,2.65],[9.19,1.16,2.2],[9.21,1.9,2.3],[9.225,1.7,2.15],[9.24,2.2,2.45],[9.26,1.9,2.15],[9.28,1.9,2.1],[9.29,2.75,2.95],[9.31,1.85,2.1],[9.325,2.4,2.55],[9.34,1.3,2.0],[9.36,2.95,3.05]];
var adiEnvRight = [[11.49,2.95,3.08],[11.51,2.9,3.03],[11.527,2.83,2.95],[11.544,2.88,2.98],[11.56,3.3,3.4],[11.577,3.1,3.2],[11.595,3.6,3.68],[11.611,3.62,3.7],[11.628,2.78,2.85],[11.645,3.64,3.72],[11.663,3.27,3.34],[11.68,2.55,2.72],[11.694,2.64,2.8],[11.711,2.42,2.64],[11.728,2.63,2.78],[11.744,2.62,2.77],[11.762,2.7,2.86],[11.779,2.66,2.81],[11.795,2.75,2.9],[11.812,2.73,2.87],[11.844,2.8,2.95],[11.861,2.64,2.8],[11.878,2.77,2.92],[11.897,2.68,2.83],[11.912,2.69,2.84],[11.926,2.58,2.74],[11.944,2.55,2.7],[11.96,1.9,2.2],[11.975,1.98,2.25],[11.989,2.05,2.3],[12.0,2.15,2.4]];
var cloudy = [[9.766,9.882],[9.984,10.265],[10.284,10.816],[10.849,11.082],[11.248,11.451]];
var grayFlag = [[9.017,9.032],[9.070,9.097],[9.184,9.196]];

// panel 5: DQ flag, minutes after 09:00 (one-minute bins)
var dq0 = [0,2,3,6,7,8,9,10,12,13,14,15,16,17,18,19,20,21,22,23,24,25,26,27,28,29,30,31,32,33,34,35,36,37,38,39,40,41,42,43,44,45,53,54,55,56,57,58,76,109,110,125,127,129,130,131,132,134,147,148,149,150,151,152,153,154,155,156,157,158,159,160,161,162,163,164,165,166,167,168,169,170,171,172,173,174,175,176,177,178,179];
var dq4 = [1,4,5,11,75];
var dq6 = [66,69,71,72,78,83,85,87,88,89,92,93,94,95,96,99,101,102,103,104,113,114,115,116,117,118,119,120,121,122,126,128,133,137];
var dq7 = [93,94,128];
var dq9 = [61,62,78,102,103,115,117,118];
var dq10 = [46,47,48,49,59,60,61,62,63,64,65,66,67,68,69,70,71,72,77,78,79,80,81,82,83,84,85,86,87,88,89,90,91,92,93,94,95,96,97,98,99,100,101,102,103,104,105,106,107,108,111,112,113,114,115,116,117,118,119,120,121,122,135,136,137,138,139,140,141,142];
var dq11 = [46,47,48,49,50,51,52,59,60,61,62,63,64,65,66,67,68,69,70,71,72,73,74,75,77,78,79,80,81,82,83,84,85,86,87,88,89,90,91,92,95,96,97,98,99,100,101,102,103,104,105,106,107,108,111,112,113,114,115,116,117,118,119,120,121,122,123,124,135,136,137,138,139,140,141,142,143,144,145,146];

// tick labels
var xTicks = [9, 9.5, 10, 10.5, 11, 11.5, 12];
var yTicks = [
  [40, 60, 80, 100, 120, 140, 160, 180, 200],
  [50, 100, 150, 200],
  [2, 4, 6, 8, 10, 12, 14],
  [1.5, 2, 2.5, 3, 3.5, 4],
  [0, 2, 4, 6, 8, 10]
];

// ---- layout / style ----
var FONT = 'DejaVu Sans';
var AX_BLUE = '#0072BD';
var DARK = '#262626';
var C2C = '#0000FF', C3C = '#ADD8E6', CPHY = '#FF8C00', CADI = '#800080';
var W_THIN = 4, W_PHY = 9, W_ADI = 4.5;
var TOPS = [296, 1420, 2545, 3670, 4795];
var H = 908;
var yMin = [21, 8.8, 0.23, 1.16, -0.515];
var yMax = [220, 229.3, 14.07, 4.113, 11.52];
var yNames = [
  'Zenith BT 23 GHz, K',
  'Zenith BT 31 GHz, K',
  'Precip. Water Vapor, mm',
  'log10 Liquid Water Path, log10(g/m{sup|2})',
  'MWR Phy Iter DQ Flag'
];
var yNameGap = [132, 132, 111, 117, 108];

var grids = [], xAxes = [], yAxes = [], series = [];
TOPS.forEach(function (top, i) {
  grids.push({left: 375, width: 2626, top: top, height: H, containLabel: false});
  xAxes.push({
    type: 'value', gridIndex: i, min: 9, max: 12, interval: 0.5,
    name: 'UTC hours on 20250615', nameLocation: 'middle', nameGap: 97,
    nameTextStyle: {fontFamily: FONT, fontSize: 47, color: DARK},
    axisLine: {show: true, onZero: false, lineStyle: {color: DARK, width: 2.5}},
    axisTick: {show: true, inside: true, length: 27, lineStyle: {color: DARK, width: 2}},
    axisLabel: {fontFamily: FONT, fontSize: 39, color: DARK, margin: 27,
      customValues: xTicks},
    splitLine: {show: false}
  });
});
TOPS.forEach(function (top, i) {
  yAxes.push({
    type: 'value', gridIndex: i, position: 'left', min: yMin[i], max: yMax[i],
    name: yNames[i], nameLocation: 'middle', nameGap: yNameGap[i], nameRotate: 90,
    nameTextStyle: {fontFamily: FONT, fontSize: 47, color: AX_BLUE,
      rich: {sup: {fontFamily: FONT, fontSize: 30, color: AX_BLUE, padding: [0, 0, 26, 0]}}},
    axisLine: {show: true, onZero: false, lineStyle: {color: AX_BLUE, width: 2}},
    axisTick: {show: true, inside: true, length: 26, lineStyle: {color: AX_BLUE, width: 2},
      customValues: yTicks[i]},
    axisLabel: {fontFamily: FONT, fontSize: 39, color: AX_BLUE, margin: 25,
      customValues: yTicks[i]},
    splitLine: {show: false}
  });
});
TOPS.forEach(function (top, i) {
  yAxes.push({
    type: 'value', gridIndex: i, position: 'right', min: yMin[i], max: yMax[i],
    axisLine: {show: true, onZero: false, lineStyle: {color: AX_BLUE, width: 2}},
    axisTick: {show: false}, axisLabel: {show: false}, splitLine: {show: false}
  });
});

function line(name, g, data, color, width) {
  return {
    name: name, type: 'line', xAxisIndex: g, yAxisIndex: g, data: data,
    symbol: 'none', showSymbol: false, connectNulls: false, z: 2,
    lineStyle: {color: color, width: width}, itemStyle: {color: color},
    silent: true, animation: false
  };
}
// translucent vertical patches drawn over the lines
function shade(g, spans, color) {
  return {
    type: 'custom', xAxisIndex: g, yAxisIndex: g, z: 5, silent: true, animation: false,
    data: spans.map(function (s) { return [s[0], s[1], 0]; }),
    encode: {x: [0, 1], y: 2},
    renderItem: function (params, api) {
      var a = api.coord([api.value(0), 0]);
      var b = api.coord([api.value(1), 0]);
      var cs = params.coordSys;
      return {type: 'rect', shape: {x: a[0], y: cs.y, width: Math.max(b[0] - a[0], 3), height: cs.height},
        style: {fill: color}};
    }
  };
}
// filled envelope between low and high
function envelope(g, pts, color) {
  return {
    type: 'custom', xAxisIndex: g, yAxisIndex: g, z: 1, silent: true, animation: false,
    data: pts.map(function (p) { return [p[0], p[2]]; }),
    renderItem: function (params, api) {
      if (params.dataIndex !== 0) return null;
      var up = [], dn = [];
      pts.forEach(function (p) {
        up.push(api.coord([p[0], p[2]]));
        dn.unshift(api.coord([p[0], p[1]]));
      });
      return {type: 'polygon', shape: {points: up.concat(dn)}, style: {fill: color}};
    }
  };
}

var TAN = 'rgba(210,180,140,0.5)';
var BROWN = 'rgba(165,42,42,0.55)';
var CYAN = 'rgba(0,255,255,0.5)';
var GRAY = 'rgba(204,204,204,0.5)';

// panel 1
series.push(line('MWR 2C (tan = wet window)', 0, bt23_2c, C2C, W_THIN));
series.push(line('MWR 3C', 0, bt23_3c, C3C, W_THIN));
series.push(line('Phy-Iter', 0, bt23_phy, CPHY, W_PHY));
series.push(shade(0, wetWindow, TAN));
// panel 2
series.push(line('MWR2C', 1, bt31_2c, C2C, W_THIN));
series.push(line('MWR 3C (tan = rain flag)', 1, bt31_3c, C3C, W_THIN));
series.push(line('Phy-Iter', 1, bt31_phy, CPHY, W_PHY));
series.push(shade(1, rainFlag, TAN));
// panel 3
var PWV_PHY = 'Phy-Iter PWV\n(tan = MWR 2C only)\n(brown = MWR 3C only)';
series.push(line('MWR 2C PWV', 2, pwv_2c, C2C, W_THIN));
series.push(line('MWR 3C PWV', 2, pwv_3c, C3C, W_THIN));
series.push(line(PWV_PHY, 2, pwv_phy, CPHY, W_PHY));
series.push(shade(2, only2c, TAN));
series.push(shade(2, only3c, BROWN));
// panel 4
series.push(envelope(3, phyEnvLeft, 'rgba(255,140,0,0.2)'));
series.push(envelope(3, phyEnvRight, 'rgba(255,140,0,0.2)'));
series.push(envelope(3, adiEnvLeft, 'rgba(128,0,128,0.2)'));
series.push(envelope(3, adiEnvRight, 'rgba(128,0,128,0.2)'));
series.push(line('MWR 2C LWP', 3, lwp_2c, C2C, W_THIN));
series.push(line('MWR 3C LWP', 3, lwp_3c, C3C, W_THIN));
series.push(line('Phy-Iter LWP', 3, lwp_phy, CPHY, W_PHY));
series.push(line('Adiabatic LWP', 3, lwp_adi, CADI, W_ADI));
series.push(shade(3, cloudy, CYAN));
series.push(shade(3, grayFlag, GRAY));
// panel 5
var flagPts = [];
[[0, dq0], [4, dq4], [6, dq6], [7, dq7], [9, dq9], [10, dq10], [11, dq11]].forEach(function (f) {
  f[1].forEach(function (m) { flagPts.push([9 + (m + 0.5) / 60, f[0]]); });
});
series.push({
  type: 'scatter', xAxisIndex: 4, yAxisIndex: 4, data: flagPts, symbol: 'circle', symbolSize: 9,
  itemStyle: {color: CPHY}, silent: true, animation: false, z: 2
});

// legend keys: a plain bar as thick as the plotted line
function key(name, w) {
  return {name: name, icon: 'path://M0 0H231V' + w + 'H0Z'};
}
function legend(left, top, items) {
  return {
    data: items, orient: 'vertical', left: left, top: top, padding: 0, z: 20,
    itemWidth: 231, itemHeight: 14, itemGap: 3, selectedMode: false, symbolKeepAspect: true,
    itemStyle: {borderWidth: 0},
    textStyle: {fontFamily: FONT, fontSize: 39, color: '#000', lineHeight: 56, padding: [0, 0, 0, 21]}
  };
}

var option = {
  backgroundColor: '#fff',
  animation: false,
  grid: grids,
  xAxis: xAxes,
  yAxis: yAxes,
  legend: [
    legend(627, 667, [key('MWR 2C (tan = wet window)', W_THIN), key('MWR 3C', W_THIN), key('Phy-Iter', W_PHY)]),
    legend(658, 1792, [key('MWR2C', W_THIN), key('MWR 3C (tan = rain flag)', W_THIN), key('Phy-Iter', W_PHY)]),
    legend(455, 2635, [key('MWR 2C PWV', W_THIN), key('MWR 3C PWV', W_THIN), key(PWV_PHY, W_PHY)]),
    legend(1426, 4319, [key('MWR 2C LWP', W_THIN), key('MWR 3C LWP', W_THIN), key('Phy-Iter LWP', W_PHY), key('Adiabatic LWP', W_ADI)])
  ],
  series: series
};

var chart = echarts.init(document.getElementById('chart'), null, {renderer: 'canvas'});
chart.setOption(option);
</script>
</body>
</html>
